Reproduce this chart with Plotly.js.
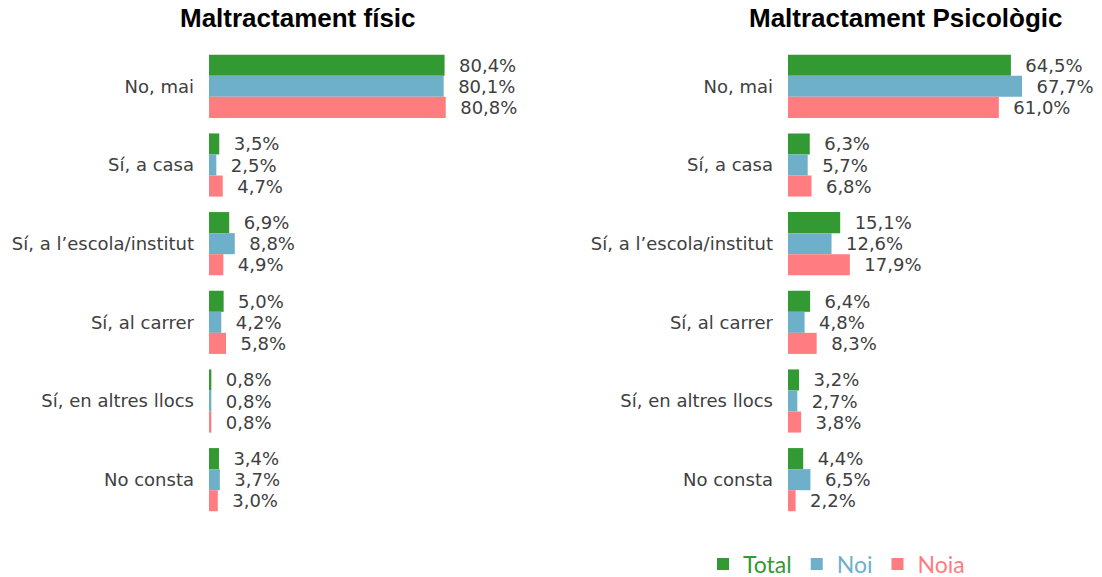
<!DOCTYPE html>
<html>
<head>
<meta charset="utf-8">
<script src="https://cdn.plot.ly/plotly-3.0.1.min.js"></script>
<style>
  body { margin: 0; background: #ffffff; }
  #chart { width: 1102px; height: 577px; }
</style>
</head>
<body>
<div id="chart"></div>
<script>
// categories (top to bottom)
const categories = ["No, mai", "Sí, a casa", "Sí, a l’escola/institut", "Sí, al carrer", "Sí, en altres llocs", "No consta"];

// Maltractament físic (%)
const fisic_total = [80.4, 3.5, 6.9, 5.0, 0.8, 3.4];
const fisic_noi = [80.1, 2.5, 8.8, 4.2, 0.8, 3.7];
const fisic_noia = [80.8, 4.7, 4.9, 5.8, 0.8, 3.0];

// Maltractament psicològic (%)
const psic_total = [64.5, 6.3, 15.1, 6.4, 3.2, 4.4];
const psic_noi = [67.7, 5.7, 12.6, 4.8, 2.7, 6.5];
const psic_noia = [61.0, 6.8, 17.9, 8.3, 3.8, 2.2];

const series_names = ["Total", "Noi", "Noia"];
const series_colors = ["#339933", "#6eb0c9", "#ff7c80"];

const W = 1102;
const H = 577;
const label_color = "#404040";

function pct(v) {
    // leading non-breaking spaces push the label away from the bar end
    return "\u00a0\u00a0" + v.toFixed(1).replace(".", ",") + "%";
}

function make_trace(values, idx, xaxis, yaxis, show_legend) {
    return {
        type: "bar",
        orientation: "h",
        y: categories,
        x: values,
        name: '<span style="color:' + series_colors[idx] + '">' + series_names[idx] + "</span>",
        legendgroup: series_names[idx],
        showlegend: show_legend,
        marker: { color: series_colors[idx] },
        text: values.map(pct),
        textposition: "outside",
        textfont: { family: "DejaVu Sans", size: 18, color: label_color },
        constraintext: "none",
        cliponaxis: false,
        hoverinfo: "none",
        xaxis: xaxis,
        yaxis: yaxis,
    };
}

let traces = [
    make_trace(fisic_total, 0, "x", "y", true),
    make_trace(fisic_noi, 1, "x", "y", true),
    make_trace(fisic_noia, 2, "x", "y", true),
    make_trace(psic_total, 0, "x2", "y2", false),
    make_trace(psic_noi, 1, "x2", "y2", false),
    make_trace(psic_noia, 2, "x2", "y2", false),
];

let yaxis_common = {
    type: "category",
    autorange: "reversed",
    showgrid: false,
    zeroline: false,
    showline: false,
    ticks: "",
    ticklabelstandoff: 14,
    tickfont: { family: "DejaVu Sans", size: 18, color: label_color },
    automargin: false,
    fixedrange: true,
};

let xaxis_common = {
    showgrid: false,
    zeroline: false,
    showline: false,
    showticklabels: false,
    ticks: "",
    automargin: false,
    fixedrange: true,
};

let layout = {
    width: W,
    height: H,
    margin: { l: 0, r: 0, t: 47, b: 58 },
    paper_bgcolor: "#ffffff",
    plot_bgcolor: "#ffffff",
    barmode: "group",
    bargap: 0.197,
    bargroupgap: 0,
    font: { family: "DejaVu Sans", color: label_color },
    xaxis: Object.assign({}, xaxis_common, { domain: [209 / W, 502 / W], range: [0, 100], anchor: "y" }),
    yaxis: Object.assign({}, yaxis_common, { domain: [0, 1], anchor: "x" }),
    xaxis2: Object.assign({}, xaxis_common, { domain: [788 / W, 1064.5 / W], range: [0, 80], anchor: "y2" }),
    yaxis2: Object.assign({}, yaxis_common, { domain: [0, 1], anchor: "x2" }),
    legend: {
        orientation: "h",
        xref: "container",
        yref: "container",
        x: 703 / W,
        xanchor: "left",
        y: (H - 564) / H,
        yanchor: "middle",
        font: { family: "Lato", size: 23 },
        itemwidth: 30,
        bgcolor: "rgba(0,0,0,0)",
    },
    annotations: [
        {
            text: "<b>Maltractament físic</b>",
            xref: "paper", yref: "paper",
            x: 298 / W, y: (519 - 18) / 472,
            xanchor: "center", yanchor: "middle",
            showarrow: false,
            font: { family: "Liberation Sans", size: 26, color: "#000000" },
        },
        {
            text: "<b>Maltractament Psicològic</b>",
            xref: "paper", yref: "paper",
            x: 906 / W, y: (519 - 18) / 472,
            xanchor: "center", yanchor: "middle",
            showarrow: false,
            font: { family: "Liberation Sans", size: 26, color: "#000000" },
        },
    ],
};

Plotly.newPlot("chart", traces, layout, { displayModeBar: false, staticPlot: true });
</script>
</body>
</html>
